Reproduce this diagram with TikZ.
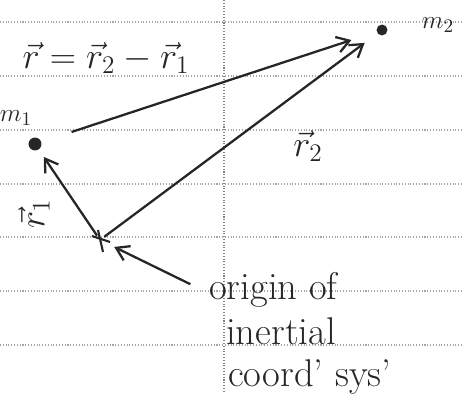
\documentclass[tikz,border=0pt]{standalone}
\usetikzlibrary{arrows.meta}
\tikzset{
  rule/.style={gray!70, densely dotted, line width=0.6pt},
  vec/.style={line width=1.3pt, black!85, -{Straight Barb[length=7pt,width=9pt]}},
  dot/.style={circle, fill=black!85, inner sep=2.6pt},
  hand/.style={font=\fontsize{20}{24}\selectfont, black!85},
  small hand/.style={font=\fontsize{15}{18}\selectfont, black!85}
}
\begin{document}
\begin{tikzpicture}[x=0.02cm,y=-0.02cm]
        \useasboundingbox (0,0) rectangle (463,394);
        % paper lines
        \foreach \y in {22,76,130,184,237,291,345}
          \draw [rule] (0,\y) -- (463,\y);
        \draw [rule, gray] (224,0) -- (224,394);
        % masses and origin
        \node [dot] (m1) at (35,144) {};
        \node [dot, inner sep=2.2pt] (m2) at (382,30) {};
        \coordinate (o) at (100,240);
        \draw [line width=1.2pt, black!85] (o) ++(-8,-4) -- ++(18,6);\draw [line width=1.2pt, black!85] (o) ++(-2,-10) -- ++(5,22);
        % vectors
        \draw [vec, shorten <=18pt, shorten >=15pt] (m1) -- (m2);
        \draw [vec, shorten <=3pt, shorten >=9pt] (o) -- (m2);
        \draw [vec, shorten <=3pt, shorten >=5pt] (o) -- (m1);
        % lecter
        \node [small hand] (l1) at (16,118) {$m_1$};
        \node [small hand] (l2) at (438,25) {$m_2$};
        \node [hand] (rel) at (106,58) {$\vec r=\vec r_2-\vec r_1$};
        \node [hand] (lr2) at (308,146) {$\vec r_2$};
        \node [hand, rotate=90, inner sep=1pt] (lr1) at (34,214) {$\vec r_1$};
        % note
        \node [hand, anchor=base west, font=\fontsize{22}{26}\selectfont] (orig) at (203,300) {origin of};
        \node [hand, anchor=base west, font=\fontsize{22}{26}\selectfont] (iner) at (220,345) {inertial};
        \node [hand, anchor=base west, font=\fontsize{22}{26}\selectfont] (sys) at (222,387) {coord' sys'};
        \draw [vec, shorten <=8pt, shorten >=9pt] (orig.west) -- (o);
    \end{tikzpicture}
\end{document}
